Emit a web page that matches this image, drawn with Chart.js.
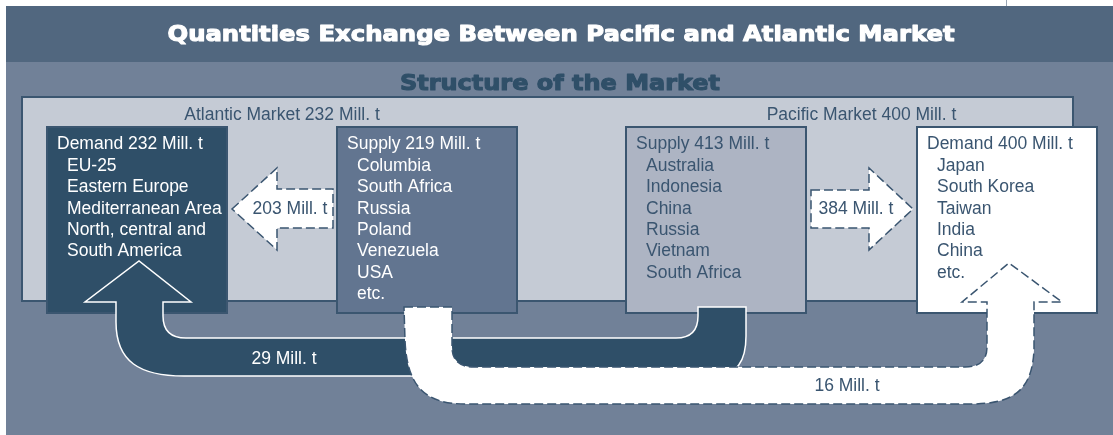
<!DOCTYPE html>
<html>
<head>
<meta charset="utf-8">
<script src="https://cdn.jsdelivr.net/npm/chart.js@4.4.1/dist/chart.umd.min.js"></script>
<style>
  body { margin: 0; background: #ffffff; }
  #wrap { width: 1113px; height: 435px; position: relative; }
</style>
</head>
<body>
<div id="wrap"><canvas id="market-chart"></canvas></div>
<script>
// chart texts and values
const chartTitle = 'Quantities Exchange Between Pacific and Atlantic Market';
const chartSubtitle = 'Structure of the Market';
const marketNames = ['Atlantic Market', 'Pacific Market'];
const marketTotals = [232, 400];
const boxKinds = ['Demand', 'Supply', 'Supply', 'Demand'];
const boxValues = [232, 219, 413, 400];
const boxCountries = [
    ['EU-25', 'Eastern Europe', 'Mediterranean Area', 'North, central and', 'South America'],
    ['Columbia', 'South Africa', 'Russia', 'Poland', 'Venezuela', 'USA', 'etc.'],
    ['Australia', 'Indonesia', 'China', 'Russia', 'Vietnam', 'South Africa'],
    ['Japan', 'South Korea', 'Taiwan', 'India', 'China', 'etc.']
];
// 203 = Atlantic supply -> Atlantic demand, 384 = Pacific supply -> Pacific demand,
// 29 = Pacific supply -> Atlantic demand, 16 = Atlantic supply -> Pacific demand
const flowValues = [203, 384, 29, 16];
const unit = 'Mill. t';

// layout (diagram units, same size as the page)
const W = 1113, H = 435;
const boxLeft = [47, 337, 626, 917];
const boxWidth = 180;
const boxTop = 127, boxBottom = 313;
const boxFill = ['#2f4f68', '#627590', '#adb4c3', '#ffffff'];
const boxText = ['#ffffff', '#ffffff', '#3a5570', '#3a5570'];
const dark = '#3a5570';
const font = '"Liberation Sans", Arial, sans-serif';

// heavy title text, stretched to the width it has in the picture
function fitText(ctx, text, cx, baseY, targetW) {
    const w = ctx.measureText(text).width;
    ctx.save();
    ctx.translate(cx, baseY);
    ctx.scale(targetW / w, 1);
    ctx.textAlign = 'center';
    ctx.textBaseline = 'alphabetic';
    ctx.strokeStyle = ctx.fillStyle;
    ctx.lineWidth = 1.1;
    ctx.lineJoin = 'round';
    ctx.strokeText(text, 0, 0);
    ctx.fillText(text, 0, 0);
    ctx.restore();
}

function drawPath(ctx, pts, X, Y) {
    ctx.beginPath();
    pts.forEach(p => {
        if (p[0] === 'M') ctx.moveTo(X(p[1]), Y(p[2]));
        else if (p[0] === 'L') ctx.lineTo(X(p[1]), Y(p[2]));
        else if (p[0] === 'Q') ctx.quadraticCurveTo(X(p[1]), Y(p[2]), X(p[3]), Y(p[4]));
        else if (p[0] === 'C') ctx.bezierCurveTo(X(p[1]), Y(p[2]), X(p[3]), Y(p[4]), X(p[5]), Y(p[6]));
    });
    ctx.closePath();
}

const diagramPlugin = {
    id: 'diagram',
    beforeDatasetsDraw(chart) {
        const ctx = chart.ctx;
        const xs = chart.scales.x, ys = chart.scales.y;
        const X = v => xs.getPixelForValue(v);
        const Y = v => ys.getPixelForValue(v);

        ctx.save();
        // backgrounds
        ctx.fillStyle = '#ffffff';
        ctx.fillRect(X(0), Y(0), X(W) - X(0), Y(H) - Y(0));
        ctx.fillStyle = '#51677f';
        ctx.fillRect(X(6), Y(6), X(W) - X(6), Y(62) - Y(6));
        ctx.fillStyle = '#718198';
        ctx.fillRect(X(6), Y(62), X(W) - X(6), Y(H) - Y(62));
        ctx.strokeStyle = '#9aa6b4';
        ctx.lineWidth = 1;
        ctx.beginPath();
        ctx.moveTo(X(1006.5), Y(0));
        ctx.lineTo(X(1006.5), Y(6));
        ctx.stroke();

        // titles
        ctx.fillStyle = '#ffffff';
        ctx.font = 'bold 22px "DejaVu Sans", Arial, sans-serif';
        fitText(ctx, chartTitle, X(561), Y(41), X(955) - X(168));
        ctx.fillStyle = '#2f4f68';
        fitText(ctx, chartSubtitle, X(560), Y(90), X(720) - X(400));

        // light market panel
        ctx.fillStyle = '#c5cbd5';
        ctx.fillRect(X(22), Y(97), X(1073) - X(22), Y(301) - Y(97));
        ctx.strokeStyle = '#3b5670';
        ctx.lineWidth = 2;
        ctx.strokeRect(X(22), Y(97), X(1073) - X(22), Y(301) - Y(97));

        ctx.font = '17.5px ' + font;
        ctx.fillStyle = dark;
        ctx.textAlign = 'center';
        ctx.textBaseline = 'middle';
        ctx.fillText(marketNames[0] + ' ' + marketTotals[0] + ' ' + unit,
            X((boxLeft[0] + boxLeft[1] + boxWidth) / 2), Y(115));
        ctx.fillText(marketNames[1] + ' ' + marketTotals[1] + ' ' + unit,
            X((boxLeft[2] + boxLeft[3] + boxWidth) / 2), Y(115));

        // four boxes
        boxLeft.forEach((bx, i) => {
            ctx.fillStyle = boxFill[i];
            ctx.fillRect(X(bx), Y(boxTop), X(bx + boxWidth) - X(bx), Y(boxBottom) - Y(boxTop));
            ctx.strokeStyle = '#3b5670';
            ctx.lineWidth = 2;
            ctx.strokeRect(X(bx), Y(boxTop), X(bx + boxWidth) - X(bx), Y(boxBottom) - Y(boxTop));
            ctx.fillStyle = boxText[i];
            ctx.textAlign = 'left';
            ctx.textBaseline = 'middle';
            ctx.fillText(boxKinds[i] + ' ' + boxValues[i] + ' ' + unit, X(bx + 10), Y(144));
            boxCountries[i].forEach((c, j) => {
                ctx.fillText(c, X(bx + 20), Y(166 + j * 21.4));
            });
        });

        // straight arrows inside each market
        ctx.setLineDash([9, 4]);
        ctx.lineWidth = 1.5;
        ctx.strokeStyle = dark;
        ctx.fillStyle = '#ffffff';
        drawPath(ctx, [['M', 232, 209], ['L', 277, 168], ['L', 277, 189], ['L', 333, 189],
            ['L', 333, 228], ['L', 277, 228], ['L', 277, 250]], X, Y);
        ctx.fill();
        ctx.stroke();
        drawPath(ctx, [['M', 811, 190], ['L', 869, 190], ['L', 869, 168], ['L', 913, 209],
            ['L', 869, 250], ['L', 869, 228], ['L', 811, 228]], X, Y);
        ctx.fill();
        ctx.stroke();
        ctx.setLineDash([]);

        // Pacific supply -> Atlantic demand
        drawPath(ctx, [['M', 698, 307], ['L', 698, 316], ['Q', 698, 338, 676, 338],
            ['L', 186, 338], ['Q', 163, 338, 163, 316], ['L', 163, 302], ['L', 191, 302],
            ['L', 139, 261], ['L', 85, 302], ['L', 116, 302], ['L', 116, 322],
            ['C', 116, 362, 140, 376, 184, 376], ['L', 712, 376],
            ['C', 738, 376, 746, 360, 746, 336], ['L', 746, 307]], X, Y);
        ctx.fillStyle = '#2f4f68';
        ctx.fill();
        ctx.strokeStyle = '#ffffff';
        ctx.lineWidth = 1.5;
        ctx.stroke();

        // Atlantic supply -> Pacific demand
        drawPath(ctx, [['M', 404, 307], ['L', 452, 307], ['L', 452, 347], ['Q', 452, 367, 474, 367],
            ['L', 965, 367], ['Q', 987, 367, 987, 347], ['L', 987, 302], ['L', 962, 302],
            ['L', 1009, 263], ['L', 1062, 302], ['L', 1034, 302], ['L', 1034, 350],
            ['C', 1032, 392, 1012, 404, 970, 404], ['L', 466, 404],
            ['C', 426, 404, 407, 388, 405, 340]], X, Y);
        ctx.fillStyle = '#ffffff';
        ctx.fill();
        ctx.setLineDash([9, 4]);
        ctx.strokeStyle = dark;
        ctx.stroke();
        ctx.setLineDash([]);

        // flow labels
        ctx.textAlign = 'center';
        ctx.textBaseline = 'middle';
        ctx.font = '17.5px ' + font;
        ctx.fillStyle = dark;
        ctx.fillText(flowValues[0] + ' ' + unit, X(290), Y(209));
        ctx.fillText(flowValues[1] + ' ' + unit, X(856), Y(209));
        ctx.fillStyle = '#ffffff';
        ctx.fillText(flowValues[2] + ' ' + unit, X(284), Y(359));
        ctx.fillStyle = dark;
        ctx.fillText(flowValues[3] + ' ' + unit, X(847), Y(386));
        ctx.restore();
    }
};

const ctx = document.getElementById('market-chart').getContext('2d');
const marketChart = new Chart(ctx, {
    type: 'scatter',
    data: { datasets: [{ data: [], pointRadius: 0 }] },
    options: {
        responsive: true,
        maintainAspectRatio: false,
        animation: false,
        layout: { padding: 0 },
        plugins: { legend: { display: false }, tooltip: { enabled: false } },
        scales: {
            x: { type: 'linear', min: 0, max: W, display: false },
            y: { type: 'linear', min: 0, max: H, reverse: true, display: false }
        }
    },
    plugins: [diagramPlugin]
});
</script>
</body>
</html>
